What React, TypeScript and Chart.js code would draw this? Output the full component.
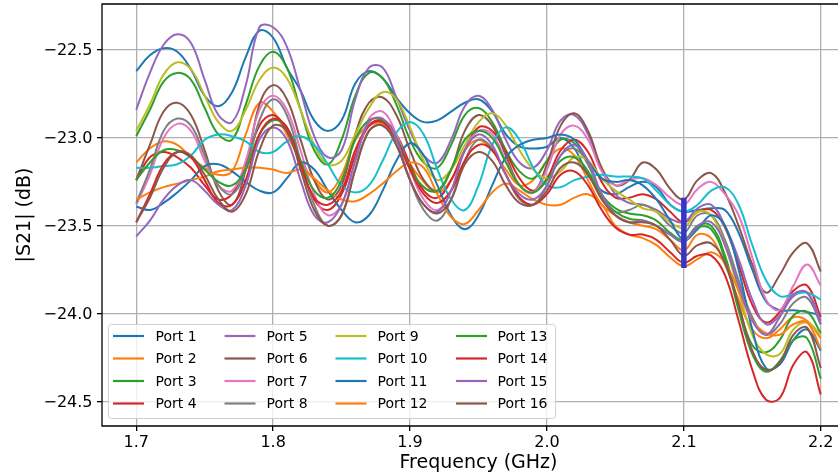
import React, { useEffect, useRef } from 'react';
import { Chart, registerables } from 'chart.js';

Chart.register(...registerables);

// Frequency axis (GHz)
const freqs = [
  1.70, 1.71, 1.72, 1.73, 1.74, 1.75, 1.76, 1.77, 1.78, 1.79,
  1.80, 1.81, 1.82, 1.83, 1.84, 1.85, 1.86, 1.87, 1.88, 1.89,
  1.90, 1.91, 1.92, 1.93, 1.94, 1.95, 1.96, 1.97, 1.98, 1.99,
  2.00, 2.01, 2.02, 2.03, 2.04, 2.05, 2.06, 2.07, 2.08, 2.09,
  2.10, 2.11, 2.12, 2.13, 2.14, 2.15, 2.16, 2.17, 2.18, 2.19, 2.20,
];

const xTicks = [1.7, 1.8, 1.9, 2.0, 2.1, 2.2];
const yTicks = [-24.5, -24.0, -23.5, -23.0, -22.5];

const portLabels = [
  'Port 1', 'Port 2', 'Port 3', 'Port 4', 'Port 5', 'Port 6', 'Port 7', 'Port 8',
  'Port 9', 'Port 10', 'Port 11', 'Port 12', 'Port 13', 'Port 14', 'Port 15', 'Port 16',
];

// |S21| in dB per port
const port1 = [
  -22.62, -22.53, -22.49, -22.51, -22.61, -22.76, -22.82, -22.74, -22.54, -22.39,
  -22.43, -22.60, -22.73, -22.90, -22.96, -22.90, -22.69, -22.62, -22.66, -22.77,
  -22.86, -22.91, -22.90, -22.85, -22.80, -22.78, -22.85, -22.98, -23.05, -23.06,
  -23.05, -23.00, -23.06, -23.21, -23.30, -23.32, -23.28, -23.25, -23.28, -23.38,
  -23.42, -23.41, -23.40, -23.41, -23.54, -23.75, -23.93, -23.98, -23.98, -23.99, -24.01,
];
const port2 = [
  -23.14, -23.06, -23.02, -23.04, -23.11, -23.17, -23.21, -23.19, -22.98, -22.80,
  -22.85, -22.98, -23.13, -23.24, -23.31, -23.21, -23.01, -22.93, -22.92, -23.01,
  -23.15, -23.25, -23.31, -23.24, -23.07, -23.01, -23.07, -23.18, -23.27, -23.24,
  -23.13, -23.06, -23.10, -23.24, -23.38, -23.44, -23.48, -23.50, -23.52, -23.58,
  -23.64, -23.55, -23.57, -23.72, -23.92, -24.09, -24.14, -24.09, -24.02, -24.04, -24.14,
];
const port3 = [
  -22.99, -22.84, -22.68, -22.63, -22.67, -22.83, -22.98, -23.01, -22.81, -22.59,
  -22.51, -22.60, -22.84, -23.07, -23.15, -23.01, -22.76, -22.63, -22.66, -22.81,
  -23.01, -23.14, -23.17, -23.04, -22.87, -22.83, -22.91, -23.07, -23.19, -23.23,
  -23.13, -23.01, -23.03, -23.15, -23.32, -23.40, -23.43, -23.44, -23.47, -23.54,
  -23.58, -23.50, -23.50, -23.67, -23.95, -24.18, -24.22, -24.15, -24.01, -23.99, -24.11,
];
const port4 = [
  -23.24, -23.11, -23.08, -23.11, -23.17, -23.27, -23.35, -23.32, -23.15, -22.93,
  -22.87, -22.96, -23.15, -23.35, -23.41, -23.32, -23.10, -22.93, -22.90, -22.98,
  -23.15, -23.30, -23.34, -23.24, -23.07, -22.94, -22.96, -23.08, -23.23, -23.30,
  -23.23, -23.07, -23.01, -23.08, -23.25, -23.34, -23.34, -23.32, -23.35, -23.42,
  -23.48, -23.42, -23.41, -23.51, -23.72, -23.95, -24.05, -23.99, -23.87, -23.84, -24.02,
];
const port5 = [
  -22.84, -22.63, -22.47, -22.41, -22.46, -22.67, -22.87, -22.91, -22.70, -22.37,
  -22.37, -22.48, -22.73, -22.99, -23.11, -23.07, -22.78, -22.60, -22.60, -22.77,
  -22.96, -23.10, -23.14, -23.01, -22.82, -22.76, -22.84, -23.01, -23.14, -23.17,
  -23.07, -22.90, -22.87, -22.98, -23.18, -23.32, -23.37, -23.38, -23.41, -23.46,
  -23.48, -23.40, -23.38, -23.50, -23.69, -23.92, -24.06, -24.01, -23.90, -23.88, -24.04,
];
const port6 = [
  -23.24, -23.04, -22.85, -22.80, -22.87, -23.07, -23.30, -23.38, -23.18, -22.81,
  -22.70, -22.78, -23.01, -23.24, -23.35, -23.27, -22.98, -22.80, -22.77, -22.87,
  -23.07, -23.24, -23.30, -23.18, -22.96, -22.87, -22.93, -23.10, -23.27, -23.31,
  -23.15, -22.93, -22.86, -22.96, -23.17, -23.27, -23.24, -23.14, -23.18, -23.29,
  -23.35, -23.24, -23.20, -23.31, -23.50, -23.72, -23.88, -23.78, -23.65, -23.60, -23.76,
];
const port7 = [
  -23.38, -23.21, -23.00, -22.92, -22.96, -23.13, -23.27, -23.30, -23.13, -22.84,
  -22.76, -22.84, -23.07, -23.32, -23.44, -23.38, -23.13, -22.89, -22.85, -22.98,
  -23.18, -23.35, -23.41, -23.30, -23.07, -22.96, -22.98, -23.13, -23.27, -23.31,
  -23.18, -22.98, -22.93, -23.01, -23.19, -23.27, -23.24, -23.23, -23.27, -23.34,
  -23.38, -23.29, -23.25, -23.32, -23.44, -23.68, -23.92, -23.98, -23.84, -23.72, -23.84,
];
const port8 = [
  -23.37, -23.18, -22.96, -22.89, -22.93, -23.10, -23.27, -23.32, -23.18, -22.90,
  -22.78, -22.87, -23.13, -23.38, -23.50, -23.44, -23.18, -22.96, -22.93, -23.04,
  -23.24, -23.41, -23.47, -23.35, -23.13, -23.01, -23.06, -23.21, -23.35, -23.38,
  -23.27, -23.10, -23.06, -23.15, -23.32, -23.42, -23.41, -23.38, -23.42, -23.50,
  -23.54, -23.44, -23.44, -23.58, -23.81, -24.02, -24.12, -24.06, -23.94, -23.91, -24.06,
];
const port9 = [
  -22.96, -22.81, -22.64, -22.57, -22.61, -22.76, -22.91, -22.96, -22.84, -22.67,
  -22.60, -22.66, -22.84, -23.04, -23.15, -23.13, -22.98, -22.83, -22.74, -22.78,
  -22.94, -23.13, -23.24, -23.18, -23.04, -22.91, -22.86, -22.93, -23.07, -23.18,
  -23.23, -23.19, -23.11, -23.13, -23.23, -23.30, -23.35, -23.40, -23.42, -23.48,
  -23.51, -23.42, -23.44, -23.61, -23.87, -24.12, -24.23, -24.23, -24.09, -24.05, -24.12,
];
const port10 = [
  -23.17, -23.17, -23.16, -23.15, -23.10, -23.01, -22.98, -22.99, -23.02, -23.08,
  -23.08, -23.02, -22.99, -23.04, -23.15, -23.27, -23.31, -23.27, -23.13, -22.97,
  -22.91, -22.98, -23.18, -23.35, -23.41, -23.27, -23.04, -22.94, -23.01, -23.17,
  -23.27, -23.28, -23.24, -23.22, -23.21, -23.22, -23.22, -23.23, -23.30, -23.38,
  -23.42, -23.38, -23.30, -23.28, -23.38, -23.61, -23.81, -23.90, -23.89, -23.88, -23.92,
];
const port11 = [
  -23.39, -23.41, -23.37, -23.31, -23.24, -23.16, -23.15, -23.19, -23.25, -23.30,
  -23.31, -23.23, -23.14, -23.18, -23.30, -23.41, -23.48, -23.44, -23.30, -23.13,
  -23.03, -23.10, -23.27, -23.44, -23.52, -23.44, -23.27, -23.11, -23.04, -23.01,
  -23.00, -22.98, -23.01, -23.13, -23.23, -23.25, -23.24, -23.27, -23.35, -23.47,
  -23.58, -23.52, -23.44, -23.50, -23.75, -24.09, -24.31, -24.29, -24.15, -24.09, -24.21,
];
const port12 = [
  -23.35, -23.31, -23.28, -23.26, -23.24, -23.22, -23.19, -23.18, -23.17, -23.17,
  -23.18, -23.20, -23.18, -23.23, -23.30, -23.35, -23.36, -23.32, -23.26, -23.19,
  -23.14, -23.17, -23.32, -23.45, -23.49, -23.41, -23.31, -23.26, -23.30, -23.35,
  -23.38, -23.38, -23.34, -23.32, -23.38, -23.50, -23.55, -23.57, -23.61, -23.68,
  -23.73, -23.69, -23.65, -23.71, -23.87, -24.04, -24.11, -24.12, -24.06, -24.05, -24.20,
];
const port13 = [
  -23.24, -23.14, -23.07, -23.07, -23.11, -23.18, -23.25, -23.27, -23.18, -22.98,
  -22.90, -22.94, -23.13, -23.30, -23.34, -23.24, -23.01, -22.90, -22.90, -23.00,
  -23.17, -23.28, -23.30, -23.18, -23.01, -22.96, -23.00, -23.14, -23.27, -23.31,
  -23.24, -23.13, -23.11, -23.19, -23.34, -23.42, -23.46, -23.47, -23.50, -23.55,
  -23.59, -23.51, -23.52, -23.69, -23.98, -24.23, -24.33, -24.27, -24.15, -24.14, -24.37,
];
const port14 = [
  -23.48, -23.32, -23.15, -23.08, -23.11, -23.24, -23.37, -23.38, -23.24, -22.98,
  -22.89, -22.94, -23.15, -23.34, -23.38, -23.30, -23.07, -22.93, -22.91, -23.01,
  -23.18, -23.32, -23.37, -23.30, -23.13, -23.04, -23.07, -23.21, -23.34, -23.38,
  -23.32, -23.21, -23.19, -23.27, -23.41, -23.51, -23.55, -23.55, -23.58, -23.65,
  -23.71, -23.67, -23.67, -23.78, -24.04, -24.32, -24.49, -24.48, -24.29, -24.22, -24.46,
];
const port15 = [
  -23.56, -23.47, -23.35, -23.27, -23.24, -23.30, -23.38, -23.41, -23.27, -23.01,
  -22.94, -23.01, -23.24, -23.44, -23.48, -23.38, -23.13, -22.91, -22.89, -23.01,
  -23.24, -23.38, -23.42, -23.30, -23.07, -22.98, -23.04, -23.21, -23.32, -23.35,
  -23.27, -23.10, -23.04, -23.13, -23.32, -23.44, -23.48, -23.47, -23.50, -23.55,
  -23.59, -23.50, -23.48, -23.61, -23.84, -24.04, -24.12, -24.02, -23.89, -23.88, -24.06,
];
const port16 = [
  -23.48, -23.34, -23.17, -23.08, -23.10, -23.21, -23.35, -23.42, -23.32, -23.07,
  -22.93, -22.96, -23.18, -23.41, -23.50, -23.44, -23.18, -22.96, -22.93, -23.04,
  -23.24, -23.38, -23.43, -23.35, -23.15, -23.08, -23.13, -23.27, -23.37, -23.38,
  -23.30, -23.17, -23.14, -23.21, -23.35, -23.44, -23.48, -23.48, -23.50, -23.58,
  -23.67, -23.61, -23.60, -23.71, -23.95, -24.21, -24.32, -24.28, -24.12, -24.08, -24.31,
];

const ports = [
  port1, port2, port3, port4, port5, port6, port7, port8,
  port9, port10, port11, port12, port13, port14, port15, port16,
];

// Vertical marker at 2.1 GHz
const markerFreq = [2.1, 2.1];
const markerDb = [-23.34, -23.74];

const tab10 = [
  '#1f77b4', '#ff7f0e', '#2ca02c', '#d62728', '#9467bd',
  '#8c564b', '#e377c2', '#7f7f7f', '#bcbd22', '#17becf',
];

const FONT = "'DejaVu Sans', 'Liberation Sans', sans-serif";

const fmtY = (v: number) => v.toFixed(1).replace('-', '\u2212');

const decorations = {
  id: 'decorations',
  afterDatasetsDraw(chart: any) {
    const { ctx, chartArea, scales } = chart;
    const { left, right, top, bottom } = chartArea;
    ctx.save();

    // spines
    ctx.strokeStyle = '#000';
    ctx.lineWidth = 1.3;
    ctx.beginPath();
    ctx.moveTo(left, bottom);
    ctx.lineTo(left, top);
    ctx.lineTo(right, top);
    ctx.lineTo(right, bottom);
    ctx.closePath();
    ctx.stroke();

    // x tick labels
    ctx.fillStyle = '#000';
    ctx.font = `16px ${FONT}`;
    ctx.textAlign = 'center';
    ctx.textBaseline = 'alphabetic';
    xTicks.forEach((v) => {
      const px = scales.x.getPixelForValue(v);
      ctx.fillText(v.toFixed(1), px, bottom + 20.5);
    });

    // y tick labels
    ctx.textAlign = 'right';
    ctx.textBaseline = 'middle';
    yTicks.forEach((v) => {
      const py = scales.y.getPixelForValue(v);
      ctx.fillText(fmtY(v), left - 9.5, py + 1);
    });

    // legend (4 columns, column-major)
    const boxX = 108.5, boxY = 324.5, boxW = 447, boxH = 94;
    ctx.beginPath();
    ctx.roundRect(boxX, boxY, boxW, boxH, 3);
    ctx.fillStyle = 'rgba(255,255,255,0.8)';
    ctx.fill();
    ctx.strokeStyle = '#d0d0d0';
    ctx.lineWidth = 1;
    ctx.stroke();

    const handleX = [113, 224.5, 335.5, 456];
    const textX = [155.5, 266.5, 377.5, 497.5];
    const rowY = [336, 358.5, 381, 403.5];
    const handleLen = 31;
    ctx.font = `14px ${FONT}`;
    ctx.textBaseline = 'middle';
    ctx.textAlign = 'left';
    portLabels.forEach((label, i) => {
      const c = Math.floor(i / 4);
      const r = i % 4;
      ctx.strokeStyle = tab10[i % 10];
      ctx.lineWidth = 2.2;
      ctx.beginPath();
      ctx.moveTo(handleX[c], rowY[r]);
      ctx.lineTo(handleX[c] + handleLen, rowY[r]);
      ctx.stroke();
      ctx.fillStyle = '#000';
      ctx.fillText(label, textX[c], rowY[r] + 1);
    });
    ctx.restore();
  },
};

export default function App() {
  const ref = useRef<HTMLCanvasElement>(null);

  useEffect(() => {
    const canvas = ref.current;
    if (!canvas) return;
    const datasets: any[] = ports.map((vals, i) => ({
      label: portLabels[i],
      data: freqs.map((f, j) => ({ x: f, y: vals[j] })),
      borderColor: tab10[i % 10],
      backgroundColor: tab10[i % 10],
      borderWidth: 2,
      pointRadius: 0,
      tension: 0.4,
      fill: false,
      order: 100 - i,
    }));
    datasets.push({
      label: 'marker',
      data: markerFreq.map((f, j) => ({ x: f, y: markerDb[j] })),
      borderColor: '#3535c8',
      borderWidth: 5.5,
      borderCapStyle: 'butt',
      pointRadius: 0,
      fill: false,
      order: 0,
    });

    const titleFont = { family: FONT, size: 19 };

    const chart = new Chart(canvas, {
      type: 'line',
      data: { datasets },
      plugins: [decorations],
      options: {
        animation: false,
        responsive: false,
        devicePixelRatio: 1,
        events: [],
        layout: { padding: { top: 4, right: 25, left: 0, bottom: 0 } },
        plugins: {
          legend: { display: false },
          tooltip: { enabled: false },
          title: { display: false },
        },
        scales: {
          x: {
            type: 'linear',
            min: 1.675,
            max: 2.225,
            afterBuildTicks: (s: any) => {
              s.ticks = xTicks.map((v) => ({ value: v }));
            },
            afterFit: (s: any) => {
              s.height = 50;
              s.paddingLeft = 0;
              s.paddingRight = 0;
            },
            grid: {
              color: '#b0b0b0',
              lineWidth: 1.3,
              tickLength: 5,
              tickColor: '#000',
              tickWidth: 1.3,
            },
            border: { display: false },
            ticks: { display: false },
            title: {
              display: true,
              text: 'Frequency (GHz)',
              font: titleFont,
              color: '#000',
              padding: { top: 0, bottom: 2 },
            },
          },
          y: {
            type: 'linear',
            min: -24.639,
            max: -22.238,
            afterBuildTicks: (s: any) => {
              s.ticks = yTicks.map((v) => ({ value: v }));
            },
            afterFit: (s: any) => {
              s.width = 102;
              s.paddingTop = 0;
              s.paddingBottom = 0;
            },
            grid: {
              color: '#b0b0b0',
              lineWidth: 1.3,
              tickLength: 5,
              tickColor: '#000',
              tickWidth: 1.3,
            },
            border: { display: false },
            ticks: { display: false },
            title: {
              display: true,
              text: '|S21| (dB)',
              font: titleFont,
              color: '#000',
              padding: { top: 14, bottom: 0 },
            },
          },
        },
      },
    });
    return () => chart.destroy();
  }, []);

  return (
    <div
      style={{
        position: 'fixed',
        left: 0,
        top: 0,
        width: 838,
        height: 476,
        overflow: 'hidden',
        background: '#fff',
      }}
    >
      <canvas ref={ref} width={880} height={476} style={{ display: 'block', width: 880, height: 476 }} />
    </div>
  );
}
